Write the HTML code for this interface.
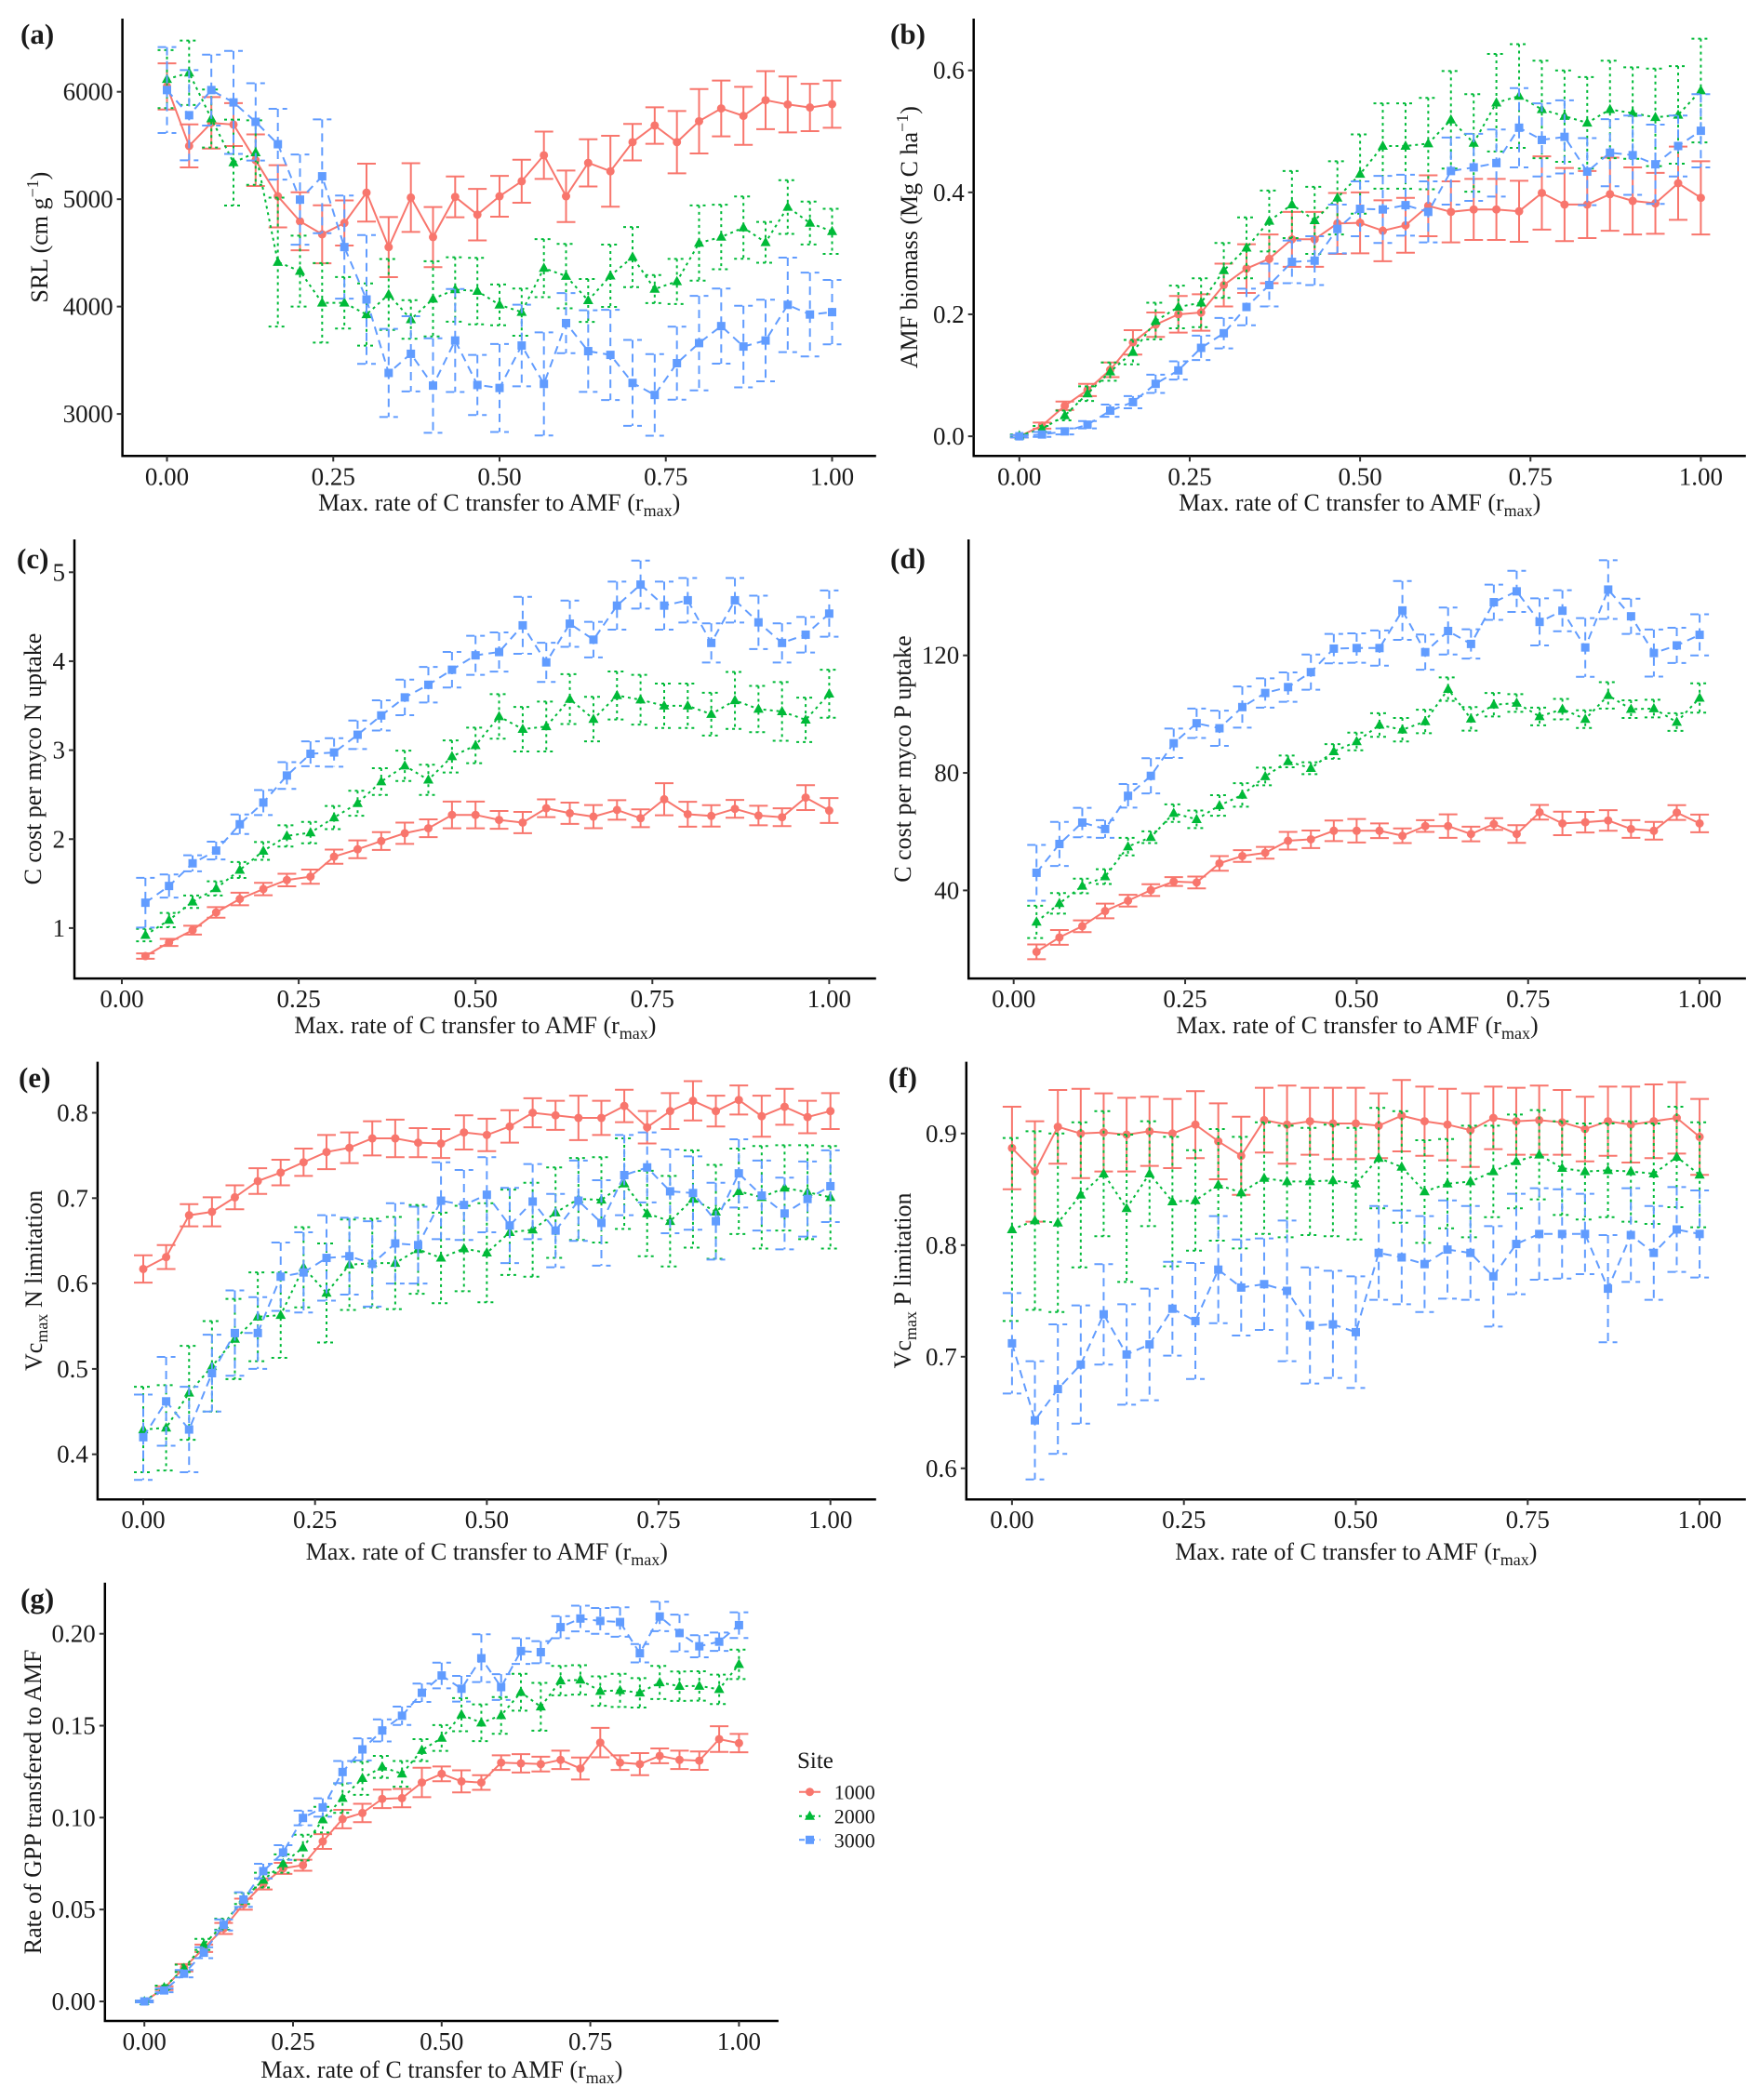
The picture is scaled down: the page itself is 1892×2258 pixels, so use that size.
<!DOCTYPE html>
<html><head><meta charset="utf-8">
<style>
html,body{margin:0;padding:0;background:#fff;}
svg text{font-family:"Liberation Serif",serif;fill:#1a1a1a;}
</style></head>
<body>
<svg id="fig" xmlns="http://www.w3.org/2000/svg" width="1892" height="2253" viewBox="0 0 1892 2253"></svg>
<script>
// ---------- categories ----------
const rmaxAll = [0,0.0333,0.0667,0.1,0.1333,0.1667,0.2,0.2333,0.2667,0.3,0.3333,0.3667,0.4,0.4333,0.4667,0.5,0.5333,0.5667,0.6,0.6333,0.6667,0.7,0.7333,0.7667,0.8,0.8333,0.8667,0.9,0.9333,0.9667,1];
const rmaxNo0 = [0.0333,0.0667,0.1,0.1333,0.1667,0.2,0.2333,0.2667,0.3,0.3333,0.3667,0.4,0.4333,0.4667,0.5,0.5333,0.5667,0.6,0.6333,0.6667,0.7,0.7333,0.7667,0.8,0.8333,0.8667,0.9,0.9333,0.9667,1];
const xTickVals = [0,0.25,0.5,0.75,1];
const xTickLabels = ["0.00","0.25","0.50","0.75","1.00"];
const siteNames = ["1000","2000","3000"];

// ---------- (a) SRL ----------
const aRed = [6050,5496,5711,5695,5363,5027,4794,4673,4778,5061,4554,5015,4647,5021,4856,5027,5167,5409,5027,5338,5260,5531,5686,5531,5726,5845,5776,5922,5882,5854,5885];
const aRedErr = [215,200,240,200,240,290,270,270,210,270,280,320,280,190,240,190,200,220,240,220,330,170,170,290,300,260,270,270,260,220,220];
const aGreen = [6118,6177,5751,5341,5434,4414,4330,4035,4035,3926,4113,3880,4072,4159,4144,4016,3948,4358,4284,4057,4287,4461,4163,4234,4592,4648,4735,4598,4927,4778,4700];
const aGreenErr = [270,300,270,400,300,600,330,370,240,290,330,180,350,300,310,190,220,270,300,200,290,280,130,210,350,300,290,190,250,200,210];
const aBlue = [6016,5782,6016,5901,5720,5512,4996,5213,4554,4066,3382,3560,3264,3684,3270,3242,3637,3280,3846,3585,3550,3289,3177,3473,3660,3818,3628,3684,4016,3926,3948];
const aBlueErr = [400,420,330,480,360,330,420,530,480,600,410,350,440,480,280,410,380,480,280,380,420,400,380,340,440,350,380,380,440,390,300];
const aTicks = [3000,4000,5000,6000];
const aTickLabels = ["3000","4000","5000","6000"];

// ---------- (b) AMF biomass ----------
const bRed = [0,0.0175,0.05,0.076,0.109,0.154,0.183,0.2,0.203,0.248,0.275,0.291,0.323,0.323,0.349,0.35,0.337,0.346,0.378,0.368,0.372,0.372,0.369,0.399,0.38,0.38,0.397,0.386,0.382,0.415,0.391];
const bRedErr = [0.002,0.005,0.007,0.01,0.012,0.02,0.02,0.03,0.03,0.035,0.04,0.04,0.045,0.045,0.05,0.05,0.05,0.045,0.05,0.05,0.05,0.05,0.05,0.06,0.06,0.055,0.06,0.055,0.05,0.06,0.06];
const bGreen = [0.001,0.012,0.034,0.07,0.106,0.138,0.189,0.212,0.219,0.272,0.309,0.353,0.38,0.354,0.391,0.43,0.476,0.476,0.48,0.519,0.481,0.547,0.558,0.536,0.525,0.514,0.536,0.53,0.523,0.527,0.567];
const bGreenErr = [0.002,0.005,0.008,0.012,0.015,0.02,0.03,0.035,0.04,0.045,0.05,0.05,0.055,0.055,0.06,0.065,0.07,0.07,0.075,0.08,0.08,0.08,0.085,0.08,0.075,0.075,0.08,0.075,0.08,0.08,0.085];
const bBlue = [0,0.003,0.008,0.019,0.042,0.056,0.086,0.108,0.145,0.169,0.212,0.248,0.286,0.288,0.34,0.373,0.372,0.379,0.368,0.435,0.441,0.448,0.506,0.486,0.491,0.434,0.465,0.461,0.446,0.476,0.501];
const bBlueErr = [0.002,0.004,0.005,0.006,0.01,0.01,0.015,0.015,0.02,0.025,0.03,0.035,0.035,0.04,0.04,0.045,0.055,0.05,0.05,0.055,0.055,0.055,0.065,0.06,0.06,0.055,0.055,0.065,0.065,0.05,0.06];
const bTicks = [0,0.2,0.4,0.6];
const bTickLabels = ["0.0","0.2","0.4","0.6"];

// ---------- (c) C cost per myco N ----------
const cRed = [0.685,0.839,0.977,1.176,1.327,1.439,1.54,1.578,1.803,1.886,1.979,2.066,2.122,2.272,2.272,2.216,2.186,2.347,2.291,2.253,2.328,2.235,2.448,2.28,2.261,2.34,2.265,2.246,2.467,2.321];
const cRedErr = [0.03,0.04,0.05,0.06,0.07,0.07,0.07,0.08,0.08,0.1,0.1,0.12,0.1,0.15,0.15,0.1,0.12,0.1,0.12,0.13,0.11,0.1,0.18,0.14,0.12,0.1,0.11,0.1,0.14,0.14];
const cGreen = [0.921,1.09,1.296,1.446,1.653,1.867,2.036,2.073,2.242,2.403,2.647,2.824,2.666,2.929,3.053,3.379,3.236,3.266,3.574,3.349,3.615,3.567,3.499,3.499,3.405,3.559,3.462,3.435,3.341,3.634];
const cGreenErr = [0.07,0.08,0.07,0.08,0.09,0.1,0.12,0.12,0.13,0.14,0.15,0.17,0.17,0.18,0.2,0.25,0.25,0.28,0.28,0.25,0.27,0.28,0.25,0.25,0.24,0.32,0.26,0.33,0.25,0.27];
const cBlue = [1.285,1.473,1.728,1.871,2.167,2.411,2.715,2.959,2.974,3.173,3.39,3.593,3.735,3.904,4.066,4.103,4.403,3.987,4.422,4.242,4.625,4.861,4.625,4.685,4.205,4.685,4.437,4.205,4.298,4.535];
const cBlueErr = [0.28,0.13,0.09,0.1,0.11,0.14,0.15,0.14,0.16,0.16,0.17,0.2,0.2,0.2,0.22,0.22,0.32,0.22,0.26,0.2,0.27,0.27,0.27,0.25,0.22,0.25,0.3,0.22,0.2,0.26];
const cTicks = [1,2,3,4,5];
const cTickLabels = ["1","2","3","4","5"];

// ---------- (d) C cost per myco P ----------
const dRed = [19.1,24,27.8,33,36.5,40.1,43,42.7,49.2,51.7,52.8,56.9,57.4,60.3,60.3,60.3,58.6,61.9,61.9,59.2,62.6,59.2,66.6,62.8,63.2,63.8,60.9,60.3,66.5,62.8];
const dRedErr = [2.5,2.5,2,2.5,2,2,1.5,2,2.5,2,2,3,3,3.5,4,2.5,2.5,2,4,2.5,2,3,2.5,4,3.5,3.5,3,3,2.5,3];
const dGreen = [29.3,35.6,41.5,44.7,54.9,58.1,66.3,64.2,68.9,72.5,78.8,83.9,81.6,87.3,90.7,96.3,94.7,97.5,108.5,98.4,103.2,103.8,99.2,101.7,98.3,106.4,101.7,101.9,97.3,105.5];
const dGreenErr = [5.5,3.5,2.5,2.5,3,2,3,3,3.5,4,3,2,2,2.5,3,4,4,4,4,4,4,3,3,3.5,3,4.5,3,3,3,5];
const dBlue = [46,55.8,63.1,60.9,72.2,79,90.1,96.9,95.2,102.4,107.2,109.2,114.3,122.3,122.5,122.5,135.3,121.1,128.3,123.9,138.1,141.8,131.4,135.2,122.7,142.4,133.3,120.8,123.4,127];
const dBlueErr = [9.5,7.5,5,3,4,6,5,5,6,7,5,5,6,5,5,6,10,6,8,5,6,7,8,7,10,10,6,8,6,7];
const dTicks = [40,80,120];
const dTickLabels = ["40","80","120"];

// ---------- (e) Vcmax N limitation ----------
const eRed = [0.617,0.631,0.68,0.684,0.701,0.72,0.73,0.742,0.754,0.759,0.77,0.77,0.765,0.764,0.777,0.774,0.784,0.8,0.797,0.794,0.794,0.808,0.783,0.802,0.814,0.802,0.815,0.796,0.807,0.795,0.802];
const eRedErr = [0.016,0.014,0.013,0.017,0.014,0.015,0.015,0.016,0.02,0.018,0.02,0.022,0.017,0.017,0.02,0.019,0.019,0.017,0.017,0.026,0.02,0.019,0.019,0.021,0.023,0.018,0.017,0.024,0.021,0.019,0.021];
const eGreen = [0.429,0.431,0.472,0.503,0.535,0.561,0.563,0.619,0.589,0.622,0.624,0.624,0.64,0.63,0.641,0.636,0.66,0.663,0.683,0.699,0.698,0.717,0.682,0.673,0.699,0.684,0.708,0.701,0.712,0.707,0.701];
const eGreenErr = [0.05,0.05,0.055,0.053,0.047,0.052,0.05,0.047,0.058,0.053,0.052,0.054,0.052,0.053,0.05,0.058,0.05,0.055,0.053,0.048,0.05,0.053,0.05,0.053,0.057,0.055,0.05,0.06,0.05,0.055,0.06];
const eBlue = [0.42,0.462,0.429,0.495,0.542,0.542,0.608,0.613,0.63,0.632,0.623,0.647,0.645,0.697,0.692,0.704,0.668,0.696,0.662,0.697,0.671,0.727,0.736,0.708,0.706,0.673,0.729,0.703,0.682,0.699,0.714];
const eBlueErr = [0.05,0.052,0.05,0.045,0.05,0.042,0.04,0.047,0.05,0.045,0.05,0.047,0.045,0.045,0.041,0.044,0.044,0.044,0.043,0.047,0.05,0.047,0.041,0.049,0.043,0.045,0.04,0.041,0.042,0.044,0.042];
const eTicks = [0.4,0.5,0.6,0.7,0.8];
const eTickLabels = ["0.4","0.5","0.6","0.7","0.8"];

// ---------- (f) Vcmax P limitation ----------
const fRed = [0.887,0.866,0.906,0.9,0.901,0.899,0.902,0.9,0.908,0.893,0.88,0.912,0.908,0.911,0.909,0.909,0.907,0.916,0.911,0.908,0.903,0.914,0.911,0.912,0.91,0.904,0.911,0.908,0.911,0.914,0.897];
const fRedErr = [0.037,0.045,0.033,0.04,0.035,0.033,0.031,0.031,0.03,0.034,0.035,0.029,0.035,0.03,0.032,0.032,0.029,0.032,0.031,0.032,0.033,0.028,0.03,0.031,0.029,0.029,0.031,0.034,0.033,0.032,0.034];
const fGreen = [0.814,0.822,0.82,0.845,0.864,0.833,0.864,0.839,0.84,0.854,0.847,0.86,0.857,0.857,0.858,0.855,0.878,0.87,0.848,0.855,0.857,0.866,0.875,0.881,0.869,0.866,0.867,0.866,0.864,0.879,0.863];
const fGreenErr = [0.082,0.08,0.08,0.065,0.056,0.066,0.047,0.058,0.045,0.05,0.05,0.05,0.05,0.048,0.05,0.05,0.045,0.05,0.046,0.04,0.05,0.041,0.042,0.04,0.042,0.043,0.042,0.045,0.045,0.045,0.047];
const fBlue = [0.712,0.643,0.671,0.693,0.738,0.702,0.711,0.743,0.732,0.778,0.762,0.765,0.759,0.728,0.729,0.722,0.793,0.789,0.783,0.796,0.793,0.772,0.801,0.81,0.81,0.81,0.761,0.809,0.793,0.814,0.81];
const fBlueErr = [0.045,0.053,0.058,0.053,0.045,0.045,0.05,0.042,0.052,0.048,0.043,0.041,0.063,0.052,0.048,0.05,0.042,0.042,0.043,0.044,0.042,0.045,0.045,0.041,0.04,0.036,0.048,0.042,0.042,0.038,0.039];
const fTicks = [0.6,0.7,0.8,0.9];
const fTickLabels = ["0.6","0.7","0.8","0.9"];

// ---------- (g) Rate of GPP transferred ----------
const gRed = [0,0.0072,0.0183,0.0289,0.0397,0.0529,0.0639,0.0724,0.0741,0.087,0.0992,0.1025,0.1102,0.1106,0.1191,0.1238,0.1197,0.1191,0.1299,0.1295,0.1291,0.1314,0.1267,0.1408,0.1299,0.1291,0.1336,0.1314,0.131,0.1427,0.1405];
const gRedErr = [0.0005,0.001,0.002,0.002,0.003,0.003,0.003,0.003,0.003,0.004,0.005,0.005,0.005,0.005,0.008,0.004,0.006,0.004,0.004,0.005,0.004,0.005,0.006,0.008,0.004,0.006,0.004,0.005,0.005,0.007,0.005];
const gGreen = [0,0.0076,0.018,0.031,0.042,0.056,0.066,0.075,0.0837,0.0989,0.1106,0.1214,0.1276,0.1238,0.1367,0.1433,0.156,0.1516,0.1556,0.1682,0.1603,0.1745,0.1749,0.1688,0.1692,0.1679,0.1735,0.1715,0.1716,0.1698,0.1834];
const gGreenErr = [0.0005,0.001,0.002,0.003,0.003,0.003,0.004,0.005,0.007,0.007,0.008,0.009,0.006,0.007,0.006,0.007,0.009,0.01,0.01,0.01,0.013,0.008,0.008,0.008,0.009,0.008,0.009,0.008,0.008,0.008,0.008];
const gBlue = [0,0.006,0.0151,0.0265,0.0416,0.0554,0.0709,0.081,0.0998,0.1055,0.1248,0.1371,0.1474,0.1554,0.1679,0.1773,0.1701,0.1867,0.171,0.1906,0.19,0.2036,0.2083,0.207,0.2064,0.1894,0.2094,0.2004,0.1932,0.1957,0.2047];
const gBlueErr = [0.0005,0.001,0.002,0.003,0.003,0.004,0.004,0.004,0.004,0.005,0.006,0.006,0.006,0.005,0.005,0.007,0.007,0.013,0.007,0.007,0.006,0.006,0.007,0.007,0.008,0.005,0.008,0.01,0.006,0.005,0.007];
const gTicks = [0,0.05,0.1,0.15,0.2];
const gTickLabels = ["0.00","0.05","0.10","0.15","0.20"];

const NS = "http://www.w3.org/2000/svg";
const svg = document.getElementById("fig");
const COLORS = ["#F8766D","#00BA38","#619CFF"];
const DASH = [null,"3,4","9,6"];

function mk(tag, attrs, parent){
  const e = document.createElementNS(NS, tag);
  for (const k in attrs) e.setAttribute(k, attrs[k]);
  (parent||svg).appendChild(e);
  return e;
}

function marker(g, s, x, y){
  let m;
  if (s===0) m = mk("circle",{cx:x,cy:y,r:4.5,fill:COLORS[0]},g);
  else if (s===1) m = mk("polygon",{points:`${x},${y-6} ${x+5.5},${y+4} ${x-5.5},${y+4}`,fill:COLORS[1]},g);
  else m = mk("rect",{x:x-4.5,y:y-4.5,width:9,height:9,fill:COLORS[2]},g);
  return m;
}

function panel(P){
  const g = mk("g",{});
  
  
  const xS = v => P.x0 + (P.x1-P.x0)*v;
  const yS = v => P.ya + (v-P.va)*(P.yb-P.ya)/(P.vb-P.va);
  for (let s=0;s<3;s++){
    const vals = P.series[s], errs = P.errs[s];
    const sg = mk("g",{},g);
    
    
    const dash = DASH[s] ? {"stroke-dasharray":DASH[s]} : {};
    for (let i=0;i<vals.length;i++){
      const x = xS(P.xs[i]), yl = yS(vals[i]-errs[i]), yh = yS(vals[i]+errs[i]);
      const eb = mk("path",Object.assign({d:`M${x-10},${yh}H${x+10}M${x},${yh}V${yl}M${x-10},${yl}H${x+10}`,stroke:COLORS[s],"stroke-width":2,fill:"none"},dash),sg);
      
      
    }
    const d = vals.map((v,i)=>(i?"L":"M")+xS(P.xs[i]).toFixed(1)+","+yS(v).toFixed(1)).join("");
    const ln = mk("path",Object.assign({d:d,stroke:COLORS[s],"stroke-width":2,fill:"none"},dash),sg);
    
    
    for (let i=0;i<vals.length;i++){
      const m = marker(sg, s, xS(P.xs[i]), yS(vals[i]));
      
      
    }
  }
  const ax = mk("path",{d:`M${P.ax},${P.top}V${P.bottom}H${P.right}`,stroke:"#000","stroke-width":2.5,fill:"none"},g);
  
  
  xTickVals.forEach((v,i)=>{
    const x = xS(v);
    mk("line",{x1:x,x2:x,y1:P.bottom,y2:P.bottom+6,stroke:"#333","stroke-width":2},g);
    const t = mk("text",{x:x,y:P.bottom+31,"text-anchor":"middle","font-size":27},g);
    t.textContent = xTickLabels[i];
    
    
  });
  P.ticks.forEach((v,i)=>{
    const y = yS(v);
    mk("line",{x1:P.ax-6,x2:P.ax,y1:y,y2:y,stroke:"#333","stroke-width":2},g);
    const t = mk("text",{x:P.ax-10,y:y+9,"text-anchor":"end","font-size":27},g);
    t.textContent = P.tickLabels[i];
    
    
  });
  const xt = mk("text",{x:(P.ax+P.right)/2,y:P.xtY,"text-anchor":"middle","font-size":26},g);
  xt.innerHTML = 'Max. rate of C transfer to AMF (r<tspan font-size="18" dy="6">max</tspan><tspan dy="-6">)</tspan>';
  
  
  const cy = (P.top+P.bottom)/2;
  const yt = mk("text",{x:0,y:0,"text-anchor":"middle","font-size":26,transform:`translate(${P.ytX},${cy}) rotate(-90)`},g);
  yt.innerHTML = P.ytitle;
  
  
  const pl = mk("text",{x:P.lx,y:P.ly,"font-size":31,"font-weight":"bold"},g);
  pl.textContent = P.label;
  
  
}

const vcN = 'Vc<tspan font-size="18" dy="6">max</tspan><tspan dy="-6"> N limitation</tspan>';
const vcP = 'Vc<tspan font-size="18" dy="6">max</tspan><tspan dy="-6"> P limitation</tspan>';

panel({name:"panel-a-srl",label:"(a)",lx:22,ly:47,ax:131.6,top:20,bottom:490.3,right:941.8,x0:179.5,x1:894.5,va:6000,ya:98.7,vb:3000,yb:445.1,
  xs:rmaxAll,series:[aRed,aGreen,aBlue],errs:[aRedErr,aGreenErr,aBlueErr],ticks:aTicks,tickLabels:aTickLabels,xtY:549,ytX:51,
  ytitle:'SRL (cm g<tspan font-size="18" dy="-10">−1</tspan><tspan dy="10">)</tspan>'});
panel({name:"panel-b-amf-biomass",label:"(b)",lx:957,ly:47,ax:1046.7,top:20,bottom:490.3,right:1876.8,x0:1095.8,x1:1828.4,va:0,ya:469.1,vb:0.6,yb:75.7,
  xs:rmaxAll,series:[bRed,bGreen,bBlue],errs:[bRedErr,bGreenErr,bBlueErr],ticks:bTicks,tickLabels:bTickLabels,xtY:549,ytX:986,
  ytitle:'AMF biomass (Mg C ha<tspan font-size="18" dy="-10">−1</tspan><tspan dy="10">)</tspan>'});
panel({name:"panel-c-cost-n",label:"(c)",lx:18,ly:611,ax:80,top:580,bottom:1052.1,right:941.8,x0:131,x1:891.4,va:5,ya:615.3,vb:1,yb:997.9,
  xs:rmaxNo0,series:[cRed,cGreen,cBlue],errs:[cRedErr,cGreenErr,cBlueErr],ticks:cTicks,tickLabels:cTickLabels,xtY:1111,ytX:44,
  ytitle:'C cost per myco N uptake'});
panel({name:"panel-d-cost-p",label:"(d)",lx:957,ly:611,ax:1041.2,top:580,bottom:1052.1,right:1876.9,x0:1089.7,x1:1827.1,va:120,ya:704.7,vb:40,yb:957.4,
  xs:rmaxNo0,series:[dRed,dGreen,dBlue],errs:[dRedErr,dGreenErr,dBlueErr],ticks:dTicks,tickLabels:dTickLabels,xtY:1111,ytX:979,
  ytitle:'C cost per myco P uptake'});
panel({name:"panel-e-vcmax-n",label:"(e)",lx:20,ly:1169,ax:104.9,top:1141.6,bottom:1612.2,right:941.8,x0:154,x1:892.7,va:0.8,ya:1196.5,vb:0.4,yb:1563.7,
  xs:rmaxAll,series:[eRed,eGreen,eBlue],errs:[eRedErr,eGreenErr,eBlueErr],ticks:eTicks,tickLabels:eTickLabels,xtY:1677,ytX:45,
  ytitle:vcN});
panel({name:"panel-f-vcmax-p",label:"(f)",lx:955,ly:1169,ax:1038.8,top:1141.6,bottom:1612.2,right:1876.8,x0:1087.9,x1:1827.1,va:0.9,ya:1218.8,vb:0.6,yb:1578.8,
  xs:rmaxAll,series:[fRed,fGreen,fBlue],errs:[fRedErr,fGreenErr,fBlueErr],ticks:fTicks,tickLabels:fTickLabels,xtY:1677,ytX:979,
  ytitle:vcP});
panel({name:"panel-g-gpp-rate",label:"(g)",lx:22,ly:1729,ax:112.8,top:1701.8,bottom:2173,right:836.9,x0:155.2,x1:794.4,va:0,ya:2152,vb:0.2,yb:1756.7,
  xs:rmaxAll,series:[gRed,gGreen,gBlue],errs:[gRedErr,gGreenErr,gBlueErr],ticks:gTicks,tickLabels:gTickLabels,xtY:2234,ytX:44,
  ytitle:'Rate of GPP transfered to AMF'});

// legend
const lg = mk("g",{});


const lt = mk("text",{x:857,y:1901,"font-size":25},lg);
lt.textContent = "Site";


const legY = [1926.7,1952.7,1978.3];
for (let s=0;s<3;s++){
  const eg = mk("g",{},lg);
  
  
  const a = {x1:859,x2:882,y1:legY[s],y2:legY[s],stroke:COLORS[s],"stroke-width":2};
  if (DASH[s]) a["stroke-dasharray"] = s===1 ? "3,4" : "6,5";
  mk("line",a,eg);
  marker(eg, s, 870.5, legY[s]);
  const t = mk("text",{x:896.7,y:legY[s]+8,"font-size":22},eg);
  t.textContent = siteNames[s];
}
</script>
</body></html>
